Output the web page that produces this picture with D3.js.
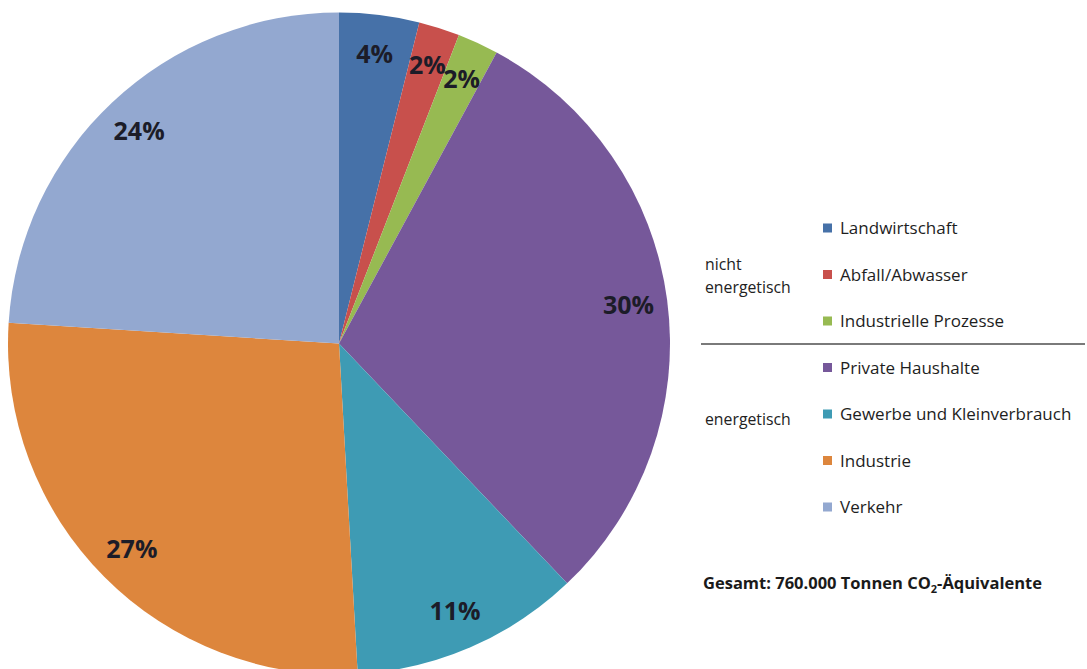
<!DOCTYPE html>
<html>
<head>
<meta charset="utf-8">
<script src="https://cdn.jsdelivr.net/npm/d3@7"></script>
<style>
  html, body { margin: 0; padding: 0; background: #fff; }
  svg { display: block; }
</style>
</head>
<body>
<svg id="chart" width="1087" height="669"></svg>
<script>
// ---- data ----
const categories = ["Landwirtschaft", "Abfall/Abwasser", "Industrielle Prozesse",
  "Private Haushalte", "Gewerbe und Kleinverbrauch", "Industrie", "Verkehr"];
const values = [3.9, 2.0, 2.0, 30.0, 11.2, 26.9, 24.0];
const colors = ["#4671A8", "#C8504C", "#97BA52", "#76589A", "#3E9BB4", "#DD863D", "#93A8D0"];
const groupLabels = [["nicht", "energetisch"], ["energetisch"]];
const totalLabel = "Gesamt: 760.000 Tonnen CO";

const svg = d3.select("#chart");
const font = "'Open Sans', 'Liberation Sans', sans-serif";

const cx = 339, cy = 343.5, R = 331;
const pie = d3.pie().sort(null).value(d => d)(values);
const arc = d3.arc().innerRadius(0).outerRadius(R);
const labelArc = d3.arc().innerRadius(292).outerRadius(292);

const g = svg.append("g").attr("transform", `translate(${cx},${cy})`);
g.selectAll("path").data(pie).join("path")
  .attr("d", arc)
  .attr("fill", (d, i) => colors[i]);

g.selectAll("text").data(pie).join("text")
  .attr("transform", d => `translate(${labelArc.centroid(d)})`)
  .attr("text-anchor", "middle")
  .attr("dy", "0.36em")
  .attr("font-family", font)
  .attr("font-weight", "bold")
  .attr("font-size", 25)
  .attr("fill", "#1c1c28")
  .text(d => Math.round(d.data) + "%");

// ---- legend ----
const y = d3.scalePoint().domain(categories).range([228, 507]);
const leg = svg.append("g");
const items = leg.selectAll("g").data(categories).join("g")
  .attr("transform", d => `translate(0,${y(d)})`);
items.append("rect")
  .attr("x", 823).attr("y", -4.5).attr("width", 9).attr("height", 9)
  .attr("fill", (d, i) => colors[i]);
items.append("text")
  .attr("x", 840).attr("dy", "0.36em")
  .attr("font-family", font).attr("font-size", 17).attr("font-weight", 500).attr("fill", "#1e1e1e")
  .text(d => d);

// group labels
const g1 = leg.append("text").attr("font-family", font).attr("font-size", 15.8).attr("fill", "#222");
g1.append("tspan").attr("x", 705).attr("y", 270).text(groupLabels[0][0]);
g1.append("tspan").attr("x", 705).attr("y", 293).text(groupLabels[0][1]);
leg.append("text").attr("font-family", font).attr("font-size", 15.8).attr("fill", "#222")
  .attr("x", 705).attr("y", 425).text(groupLabels[1][0]);

// divider
leg.append("line").attr("x1", 701).attr("x2", 1085)
  .attr("y1", 344).attr("y2", 344)
  .attr("stroke", "#7a7a7a").attr("stroke-width", 2.2);

// total
const t = svg.append("text").attr("x", 703).attr("y", 589)
  .attr("font-family", font).attr("font-weight", "bold").attr("font-size", 16.5).attr("fill", "#1a1a1a");
t.append("tspan").text(totalLabel);
t.append("tspan").attr("font-size", 11).attr("dy", 4).text("2");
t.append("tspan").attr("dy", -4).text("-Äquivalente");
</script>
</body>
</html>
